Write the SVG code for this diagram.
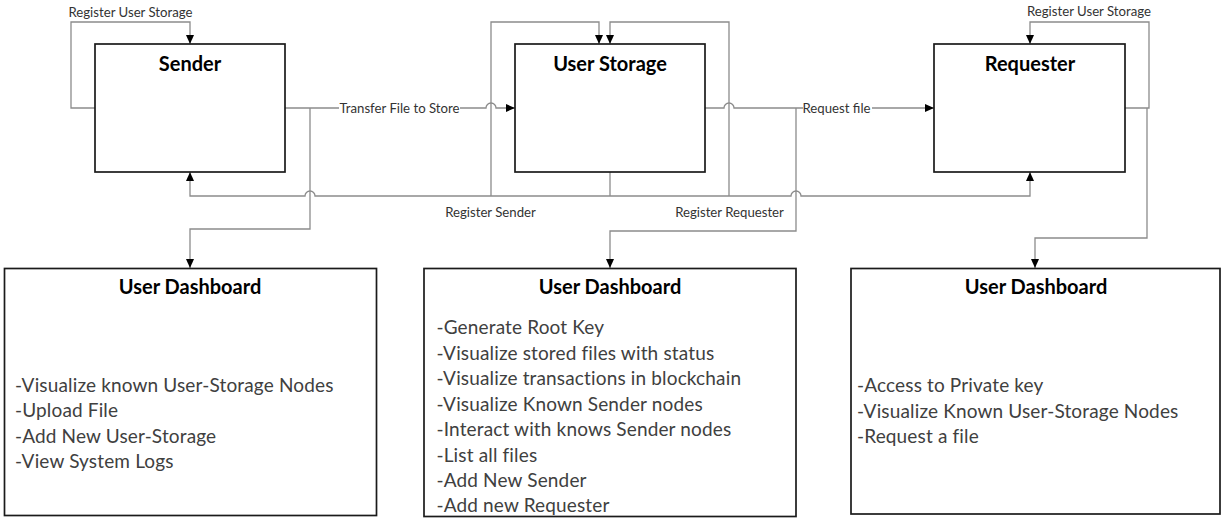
<svg xmlns="http://www.w3.org/2000/svg" width="1225" height="519" viewBox="0 0 1225 519">
  <style>
    .box { fill: #ffffff; stroke: #1a1a1a; stroke-width: 1.7; }
    .wire { fill: none; stroke: #8c8c8c; stroke-width: 1.3; }
    .title { font-family: Lato, "Liberation Sans", sans-serif; font-weight: bold; font-size: 20px; fill: #000; text-anchor: middle; }
    .item { font-family: Lato, "Liberation Sans", sans-serif; font-size: 19px; letter-spacing: 0.15px; fill: #404040; }
    .lbl { font-family: Lato, "Liberation Sans", sans-serif; font-size: 13.2px; fill: #333; }
    .mid { text-anchor: middle; }
  </style>
  <defs>
    <marker id="arrow" markerUnits="userSpaceOnUse" markerWidth="9" markerHeight="8" viewBox="0 0 9 8" refX="9" refY="4" orient="auto">
      <path d="M0,0 L9,4 L0,8 z" fill="#000"/>
    </marker>
  </defs>

  <!-- connectors -->
  <g id="connectors">
    <!-- Sender self loop: Register User Storage -->
    <path class="wire" d="M95,108 H71 V22 H190 V44" marker-end="url(#arrow)"/>
    <!-- Sender to User Storage, hopping the left loop -->
    <path class="wire" d="M285,108 H486 a5,5 0 0 1 10,0 H515" marker-end="url(#arrow)"/>
    <!-- Sender to its dashboard -->
    <path class="wire" d="M310,108 V229 H190 V268" marker-end="url(#arrow)"/>
    <!-- User Storage bottom bus -->
    <path class="wire" d="M610,172 V196"/>
    <path class="wire" d="M610,196 H315 a5,5 0 0 0 -10,0 H190 V172" marker-end="url(#arrow)"/>
    <path class="wire" d="M610,196 H791 a5,5 0 0 1 10,0 H1030 V172" marker-end="url(#arrow)"/>
    <!-- Register loops into User Storage top -->
    <path class="wire" d="M491,196 V22 H599 V44" marker-end="url(#arrow)"/>
    <path class="wire" d="M729,196 V22 H610 V44" marker-end="url(#arrow)"/>
    <!-- User Storage to Requester, hopping the right loop -->
    <path class="wire" d="M705,108 H724 a5,5 0 0 1 10,0 H934" marker-end="url(#arrow)"/>
    <!-- User Storage to its dashboard -->
    <path class="wire" d="M796,108 V231 H610 V268" marker-end="url(#arrow)"/>
    <!-- Requester self loop: Register User Storage -->
    <path class="wire" d="M1125,108 H1149 V22 H1030 V44" marker-end="url(#arrow)"/>
    <!-- Requester to its dashboard -->
    <path class="wire" d="M1147,108 V238 H1035 V268" marker-end="url(#arrow)"/>

    <!-- connector labels -->
    <rect x="339" y="100" width="121" height="16" fill="#fff"/>
    <text class="lbl mid" x="399.5" y="112.5">Transfer File to Store</text>
    <rect x="803" y="100" width="69" height="16" fill="#fff"/>
    <text class="lbl mid" x="836.5" y="112.5">Request file</text>
    <text class="lbl mid" x="130.5" y="16.5">Register User Storage</text>
    <text class="lbl mid" x="1089" y="15.5">Register User Storage</text>
    <text class="lbl mid" x="490.5" y="216.5">Register Sender</text>
    <text class="lbl mid" x="729.5" y="216.5">Register Requester</text>
  </g>

  <!-- top row -->
  <g id="sender">
    <rect class="box" x="95" y="44" width="190" height="128"/>
    <text class="title" x="190" y="71">Sender</text>
  </g>
  <g id="user-storage">
    <rect class="box" x="515" y="44" width="190" height="128"/>
    <text class="title" x="610" y="71">User Storage</text>
  </g>
  <g id="requester">
    <rect class="box" x="934" y="44" width="191" height="128"/>
    <text class="title" x="1030" y="71">Requester</text>
  </g>

  <!-- dashboards -->
  <g id="sender-dashboard">
    <rect class="box" x="4.5" y="268.5" width="372" height="247"/>
    <text class="title" x="190" y="294">User Dashboard</text>
    <text class="item" x="15" y="391.7">-Visualize known User-Storage Nodes</text>
    <text class="item" x="15" y="417.2">-Upload File</text>
    <text class="item" x="15" y="442.7">-Add New User-Storage</text>
    <text class="item" x="15" y="468.2">-View System Logs</text>
  </g>
  <g id="storage-dashboard">
    <rect class="box" x="424" y="268.5" width="372" height="248"/>
    <text class="title" x="610" y="294">User Dashboard</text>
    <text class="item" x="436.5" y="334">-Generate Root Key</text>
    <text class="item" x="436.5" y="359.5">-Visualize stored files with status</text>
    <text class="item" x="436.5" y="385">-Visualize transactions in blockchain</text>
    <text class="item" x="436.5" y="410.5">-Visualize Known Sender nodes</text>
    <text class="item" x="436.5" y="436">-Interact with knows Sender nodes</text>
    <text class="item" x="436.5" y="461.5">-List all files</text>
    <text class="item" x="436.5" y="487">-Add New Sender</text>
    <text class="item" x="436.5" y="512">-Add new Requester</text>
  </g>
  <g id="requester-dashboard">
    <rect class="box" x="851" y="268.5" width="369" height="245.5"/>
    <text class="title" x="1036" y="294">User Dashboard</text>
    <text class="item" x="857" y="392.3">-Access to Private key</text>
    <text class="item" x="857" y="417.8">-Visualize Known User-Storage Nodes</text>
    <text class="item" x="857" y="443.3">-Request a file</text>
  </g>
</svg>
